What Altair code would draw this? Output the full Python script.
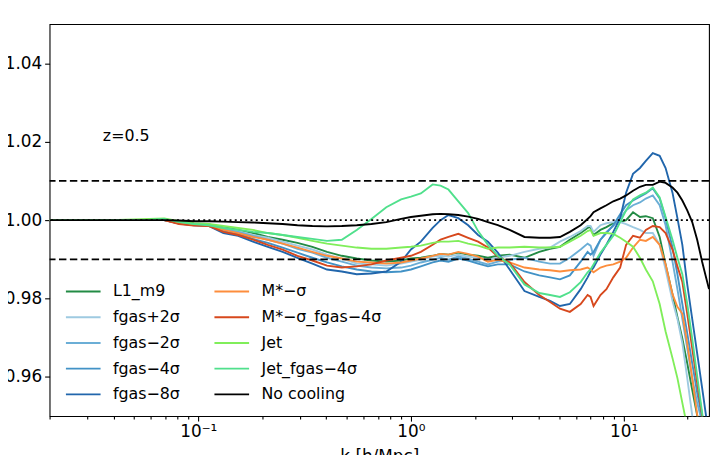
import altair as alt
import pandas as pd

# wavenumber grid (h/Mpc)
K = [0.02, 0.0384, 0.0589, 0.0692, 0.0812, 0.0953, 0.1119, 0.1313, 0.1541, 0.1809,
     0.2124, 0.2493, 0.2926, 0.344, 0.403, 0.473, 0.556, 0.652, 0.766, 0.899,
     1.0, 1.113, 1.265, 1.378, 1.501, 1.670, 1.858, 2.068, 2.301, 2.561,
     2.911, 3.418, 4.011, 4.510, 5.020, 5.586, 6.28, 6.77, 6.99, 7.22,
     7.78, 8.30, 8.94, 9.63, 10.27, 11.07, 11.93, 12.72, 13.71, 14.77,
     15.75, 16.97, 17.90, 18.88, 19.91, 21.01, 22.17, 23.39, 25.2]

L1_M9 = [1.0000, 1.0000, 1.0000, 1.0000, 0.9994, 0.9990, 0.9989, 0.9982, 0.9975, 0.9967,
         0.9957, 0.9950, 0.9942, 0.9932, 0.9919, 0.9909, 0.9902, 0.9897, 0.9894, 0.9897,
         0.9902, 0.9904, 0.9909, 0.9914, 0.9912, 0.9917, 0.9912, 0.9909, 0.9904, 0.9909,
         0.9912, 0.9904, 0.9919, 0.9927, 0.9932, 0.9950, 0.9967, 0.9980, 0.9982, 0.9962,
         0.9975, 0.9982, 0.9992, 0.9995, 1.0000, 1.0020, 1.0008, 1.0010, 1.0005, 0.9957,
         0.9887, 0.9811, 0.9753, 0.9698, 0.9635, 0.9567, 0.9502, 0.9434, 0.9333]

FGAS_P2 = [1.0000, 1.0000, 1.0000, 1.0000, 0.9994, 0.9990, 0.9987, 0.9980, 0.9972, 0.9962,
           0.9955, 0.9945, 0.9935, 0.9925, 0.9912, 0.9902, 0.9889, 0.9887, 0.9884, 0.9889,
           0.9894, 0.9899, 0.9907, 0.9909, 0.9907, 0.9912, 0.9907, 0.9904, 0.9899, 0.9904,
           0.9909, 0.9919, 0.9927, 0.9930, 0.9945, 0.9957, 0.9972, 0.9985, 0.9985, 0.9970,
           0.9987, 0.9992, 0.9995, 0.9995, 0.9990, 0.9982, 0.9975, 0.9967, 0.9967, 0.9937,
           0.9874, 0.9794, 0.9748, 0.9686, 0.9597, 0.9502, 0.9421, 0.9346, 0.9245]

FGAS_M2 = [1.0000, 1.0000, 1.0000, 1.0000, 0.9992, 0.9990, 0.9987, 0.9977, 0.9970, 0.9960,
           0.9950, 0.9940, 0.9927, 0.9917, 0.9904, 0.9894, 0.9884, 0.9879, 0.9877, 0.9879,
           0.9884, 0.9892, 0.9899, 0.9904, 0.9899, 0.9907, 0.9902, 0.9894, 0.9887, 0.9894,
           0.9899, 0.9904, 0.9894, 0.9889, 0.9889, 0.9904, 0.9925, 0.9940, 0.9935, 0.9909,
           0.9950, 0.9970, 0.9985, 1.0005, 1.0025, 1.0038, 1.0045, 1.0055, 1.0063, 1.0038,
           0.9987, 0.9894, 0.9824, 0.9748, 0.9673, 0.9597, 0.9534, 0.9484, 0.9383]

FGAS_M4 = [1.0000, 1.0000, 1.0000, 1.0000, 0.9992, 0.9989, 0.9986, 0.9972, 0.9965, 0.9952,
           0.9942, 0.9930, 0.9917, 0.9904, 0.9892, 0.9882, 0.9874, 0.9869, 0.9867, 0.9869,
           0.9874, 0.9882, 0.9892, 0.9897, 0.9894, 0.9902, 0.9897, 0.9889, 0.9882, 0.9887,
           0.9887, 0.9869, 0.9859, 0.9854, 0.9849, 0.9859, 0.9894, 0.9919, 0.9912, 0.9919,
           0.9950, 0.9967, 0.9987, 1.0015, 1.0038, 1.0050, 1.0060, 1.0068, 1.0081, 1.0055,
           1.0005, 0.9930, 0.9862, 0.9786, 0.9711, 0.9635, 0.9560, 0.9497, 0.9384]

FGAS_M8 = [1.0000, 1.0000, 1.0000, 1.0000, 0.9991, 0.9987, 0.9985, 0.9967, 0.9960, 0.9945,
           0.9932, 0.9919, 0.9904, 0.9889, 0.9874, 0.9869, 0.9862, 0.9864, 0.9869, 0.9894,
           0.9925, 0.9945, 0.9980, 1.0000, 1.0013, 1.0005, 0.9987, 0.9962, 0.9945, 0.9917,
           0.9874, 0.9819, 0.9804, 0.9794, 0.9781, 0.9786, 0.9824, 0.9854, 0.9869, 0.9879,
           0.9912, 0.9937, 0.9970, 1.0005, 1.0070, 1.0118, 1.0133, 1.0151, 1.0171, 1.0164,
           1.0133, 1.0070, 1.0005, 0.9937, 0.9836, 0.9748, 0.9660, 0.9572, 0.9447]

MSTAR_M1 = [1.0000, 1.0000, 1.0000, 1.0000, 0.9992, 0.9989, 0.9985, 0.9975, 0.9967, 0.9957,
            0.9950, 0.9940, 0.9930, 0.9919, 0.9909, 0.9902, 0.9894, 0.9892, 0.9889, 0.9892,
            0.9897, 0.9902, 0.9909, 0.9914, 0.9912, 0.9919, 0.9914, 0.9907, 0.9894, 0.9899,
            0.9892, 0.9879, 0.9874, 0.9872, 0.9869, 0.9872, 0.9874, 0.9879, 0.9874, 0.9867,
            0.9879, 0.9884, 0.9887, 0.9894, 0.9904, 0.9930, 0.9950, 0.9947, 0.9957, 0.9937,
            0.9887, 0.9811, 0.9779, 0.9761, 0.9686, 0.9597, 0.9504, 0.9421, 0.9321]

MSTAR_FGAS = [1.0000, 1.0000, 1.0000, 1.0000, 0.9990, 0.9986, 0.9985, 0.9970, 0.9962, 0.9950,
              0.9937, 0.9925, 0.9909, 0.9897, 0.9884, 0.9879, 0.9882, 0.9887, 0.9897, 0.9904,
              0.9909, 0.9919, 0.9937, 0.9950, 0.9957, 0.9965, 0.9955, 0.9945, 0.9930, 0.9907,
              0.9892, 0.9842, 0.9809, 0.9791, 0.9774, 0.9766, 0.9786, 0.9809, 0.9804, 0.9781,
              0.9809, 0.9824, 0.9854, 0.9879, 0.9937, 0.9960, 0.9955, 0.9975, 0.9985, 0.9982,
              0.9967, 0.9925, 0.9882, 0.9842, 0.9761, 0.9673, 0.9585, 0.9502, 0.9396]

JET = [1.0000, 1.0000, 1.0003, 1.0004, 0.9997, 0.9992, 0.9990, 0.9985, 0.9980, 0.9975,
       0.9967, 0.9962, 0.9955, 0.9947, 0.9940, 0.9935, 0.9930, 0.9927, 0.9927, 0.9930,
       0.9932, 0.9935, 0.9942, 0.9945, 0.9945, 0.9947, 0.9940, 0.9935, 0.9927, 0.9930,
       0.9930, 0.9932, 0.9930, 0.9930, 0.9932, 0.9945, 0.9960, 0.9972, 0.9975, 0.9960,
       0.9967, 0.9967, 0.9965, 0.9955, 0.9945, 0.9932, 0.9904, 0.9874, 0.9844, 0.9786,
       0.9716, 0.9648, 0.9597, 0.9534, 0.9472, 0.9396, 0.9321, 0.9245, 0.9145]

JET_FGAS = [1.0000, 1.0000, 1.0001, 1.0003, 0.9995, 0.9990, 0.9987, 0.9980, 0.9975, 0.9970,
            0.9967, 0.9962, 0.9957, 0.9952, 0.9947, 0.9950, 0.9975, 1.0003, 1.0033, 1.0053,
            1.0060, 1.0068, 1.0091, 1.0088, 1.0078, 1.0048, 1.0018, 0.9972, 0.9937, 0.9909,
            0.9887, 0.9836, 0.9814, 0.9809, 0.9804, 0.9816, 0.9842, 0.9867, 0.9874, 0.9887,
            0.9917, 0.9937, 0.9960, 0.9995, 1.0025, 1.0053, 1.0063, 1.0070, 1.0083, 1.0058,
            1.0008, 0.9950, 0.9904, 0.9862, 0.9786, 0.9698, 0.9602, 0.9509, 0.9371]

NO_COOLING = [1.0000, 1.0000, 1.0000, 1.0000, 0.9999, 0.9997, 0.9997, 0.9996, 0.9995, 0.9994,
              0.9992, 0.9990, 0.9987, 0.9985, 0.9984, 0.9985, 0.9987, 0.9990, 0.9995, 1.0003,
              1.0008, 1.0011, 1.0015, 1.0016, 1.0015, 1.0013, 1.0009, 1.0003, 0.9995, 0.9987,
              0.9975, 0.9957, 0.9955, 0.9955, 0.9957, 0.9970, 0.9987, 1.0003, 1.0010, 1.0020,
              1.0030, 1.0038, 1.0048, 1.0055, 1.0063, 1.0075, 1.0085, 1.0090, 1.0090, 1.0098,
              1.0095, 1.0083, 1.0070, 1.0050, 1.0025, 0.9995, 0.9950, 0.9894, 0.9824]

MODELS = ["L1_m9", "fgas+2σ", "fgas−2σ", "fgas−4σ", "fgas−8σ",
          "M*−σ", "M*−σ_fgas−4σ", "Jet", "Jet_fgas−4σ", "No cooling"]
SERIES = [L1_M9, FGAS_P2, FGAS_M2, FGAS_M4, FGAS_M8,
          MSTAR_M1, MSTAR_FGAS, JET, JET_FGAS, NO_COOLING]
COLORS = ["#238b45", "#9ecae1", "#6baed6", "#4292c6", "#2166ac",
          "#fd8d3c", "#d7481d", "#80ee5a", "#50e08c", "#000000"]

HLINES_DASHED = [1.01, 0.99]
HLINE_DOTTED = [1.0]
MAJOR_TICKS = [0.1, 1.0, 10.0]
MINOR_TICKS = [0.02, 0.03, 0.04, 0.05, 0.06, 0.07, 0.08, 0.09,
               0.2, 0.3, 0.4, 0.5, 0.6, 0.7, 0.8, 0.9,
               2, 3, 4, 5, 6, 7, 8, 9, 20]
Y_TICKS = [0.96, 0.98, 1.00, 1.02, 1.04]
ANNOT = {"k": [0.0356], "ratio": [1.0214], "text": ["z=0.5"]}

rows = []
for name, vals in zip(MODELS, SERIES):
    for k, r in zip(K, vals):
        rows.append({"k": k, "ratio": r, "model": name})
df = pd.DataFrame(rows)

xscale = alt.Scale(type="log", domain=[0.02, 25.2], nice=False)
yscale = alt.Scale(domain=[0.95, 1.05], nice=False, zero=False)

x_major_axis = alt.Axis(values=MAJOR_TICKS, orient="bottom", tickSize=5, labelPadding=3,
                        labelExpr="datum.value < 0.5 ? '10⁻¹' : (datum.value < 5 ? '10⁰' : '10¹')",
                        title="k [h/Mpc]", titlePadding=9)
y_axis = alt.Axis(values=Y_TICKS, format=".2f", tickSize=5, labelPadding=3)

X = alt.X("k:Q", scale=xscale, axis=x_major_axis)
Y = alt.Y("ratio:Q", scale=yscale, axis=y_axis, title=None)

legend = alt.Legend(orient="none", legendX=26, legendY=262, columns=2, title=None,
                    symbolType="M-2.5,0H2.5", symbolSize=196, symbolStrokeWidth=2,
                    labelFontSize=16, labelFont="DejaVu Sans", labelColor="black",
                    labelOffset=22, columnPadding=30, rowPadding=10, padding=0)
COLOR = alt.Color("model:N", scale=alt.Scale(domain=MODELS, range=COLORS),
                  legend=legend)

line_layers = []
for name in MODELS:
    line_layers.append(
        alt.Chart(df).transform_filter(alt.datum.model == name)
        .mark_line(clip=True, strokeWidth=1.9)
        .encode(x=X, y=Y, color=COLOR)
    )

dashed = alt.Chart(pd.DataFrame({"ratio": HLINES_DASHED})).mark_rule(
    color="black", strokeDash=[7.5, 3.5], strokeWidth=1.7).encode(y=Y)
dotted = alt.Chart(pd.DataFrame({"ratio": HLINE_DOTTED})).mark_rule(
    color="black", strokeDash=[2, 3.3], strokeWidth=1.7).encode(y=Y)

annot = alt.Chart(pd.DataFrame(ANNOT)).mark_text(
    align="left", baseline="middle", fontSize=16, font="DejaVu Sans", color="black"
).encode(x=X, y=Y, text="text:N")

inner = alt.layer(*line_layers, dashed, dotted, annot)

minor = alt.Chart(pd.DataFrame({"k": MINOR_TICKS})).mark_point(opacity=0).encode(
    x=alt.X("k:Q", scale=xscale,
            axis=alt.Axis(values=MINOR_TICKS, orient="bottom", labels=False, tickSize=3,
                          title=None, grid=False, domain=False))
)

chart = (
    alt.layer(minor, inner)
    .resolve_axis(x="independent")
    .properties(width=666, height=396,
                autosize=alt.AutoSizeParams(type="none"),
                padding={"left": 42, "top": 14, "right": 1, "bottom": 37})
    .configure_view(stroke="black", strokeWidth=1.1)
    .configure_axis(labelFont="DejaVu Sans", labelFontSize=17, labelColor="black",
                    tickColor="black", tickWidth=1.1, domain=False, grid=False,
                    titleFont="DejaVu Sans", titleFontSize=17, titleFontWeight="normal",
                    titleColor="black")
)

chart.save("out.html", embed_options={"renderer": "svg", "actions": False})
